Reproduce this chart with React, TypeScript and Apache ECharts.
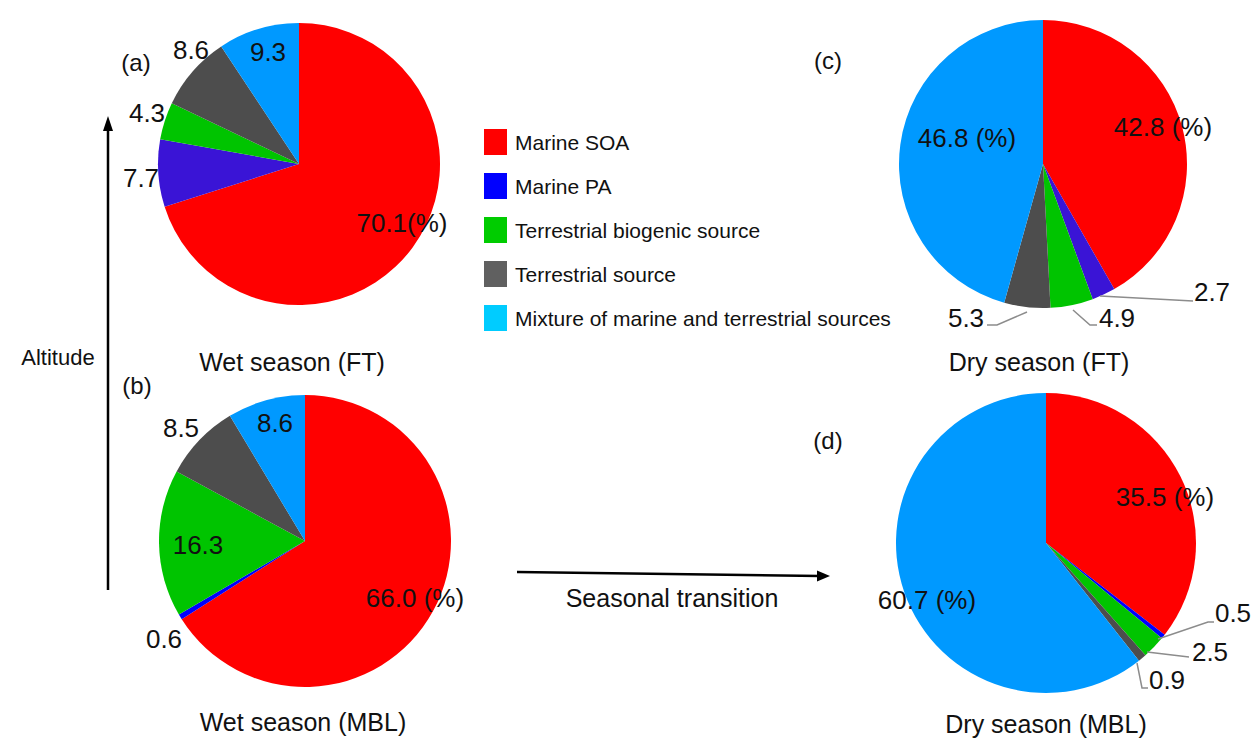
import React, { useEffect, useRef } from "react";
import * as echarts from "echarts";

// ---- data ----
const categories = [
  "Marine SOA",
  "Marine PA",
  "Terrestrial biogenic source",
  "Terrestrial source",
  "Mixture of marine and terrestrial sources",
];
const wetFT = [70.1, 7.7, 4.3, 8.6, 9.3];
const wetMBL = [66.0, 0.6, 16.3, 8.5, 8.6];
const dryFT = [42.8, 2.7, 4.9, 5.3, 46.8];
const dryMBL = [35.5, 0.5, 2.5, 0.9, 60.7];
const panelTitles = ["Wet season (FT)", "Wet season (MBL)", "Dry season (FT)", "Dry season (MBL)"];
const panelTags = ["(a)", "(b)", "(c)", "(d)"];
const axisTexts = ["Altitude", "Seasonal transition"];

// ---- styles / layout ----
const FONT = "Arial, 'Liberation Sans', sans-serif";
const legendColors = ["#FF0000", "#0000FF", "#00CC00", "#606060", "#00CCFF"];
const purpleSlice = ["#FF0000", "#3A14D6", "#00C400", "#4D4D4D", "#0099FF"];
const blueSlice = ["#FF0000", "#0000FF", "#00C400", "#4D4D4D", "#0099FF"];

const panels = [
  {
    values: wetFT, colors: purpleSlice, center: [299, 164], r: 141,
    labelPos: [[402, 223], [141, 178], [147, 113], [191, 50], [268, 52]],
    suffix: ["(%)", "", "", "", ""],
    lines: [null, null, null, null, null],
    title: [292, 362], tag: [136, 62],
  },
  {
    values: wetMBL, colors: blueSlice, center: [305, 541], r: 146,
    labelPos: [[415, 598], [164, 639], [198, 545], [181, 428], [275, 423]],
    suffix: [" (%)", "", "", "", ""],
    lines: [null, null, null, null, null],
    title: [303, 722], tag: [137, 385],
  },
  {
    values: dryFT, colors: purpleSlice, center: [1043, 164], r: 144,
    labelPos: [[1163, 127], [1212, 292], [1117, 318], [966, 318], [967, 138]],
    suffix: [" (%)", "", "", "", " (%)"],
    lines: [
      null,
      [[1100, 296], [1193, 301]],
      [[1073, 310], [1090, 325], [1097, 325]],
      [[987, 325], [997, 325], [1027, 312]],
      null,
    ],
    title: [1039, 362], tag: [828, 60],
  },
  {
    values: dryMBL, colors: blueSlice, center: [1046, 543], r: 150,
    labelPos: [[1165, 497], [1233, 613], [1210, 652], [1167, 680], [927, 600]],
    suffix: [" (%)", "", "", "", " (%)"],
    lines: [
      null,
      [[1158, 639], [1208, 622], [1214, 622]],
      [[1147, 652], [1189, 657]],
      [[1137, 663], [1142, 688], [1148, 688]],
      null,
    ],
    title: [1046, 724], tag: [828, 440],
  },
];

function txt(text: string, x: number, y: number, size: number) {
  return {
    type: "text",
    silent: true,
    z: 100,
    style: {
      text, x, y, align: "center", verticalAlign: "middle",
      fontSize: size, fontFamily: FONT, fill: "#111",
    },
  };
}

export default function App() {
  const ref = useRef<HTMLDivElement>(null);
  useEffect(() => {
    if (!ref.current) return;
    const chart = echarts.init(ref.current, undefined, { renderer: "svg" });

    const series = panels.map((p, k) => ({
      type: "pie",
      name: panelTitles[k],
      center: p.center,
      radius: p.r,
      startAngle: 90,
      clockwise: true,
      silent: true,
      avoidLabelOverlap: false,
      label: { show: false },
      labelLine: { show: false },
      emphasis: { disabled: true },
      itemStyle: { borderWidth: 0 },
      z: 1,
      data: categories.map((name, i) => ({
        name, value: p.values[i], itemStyle: { color: p.colors[i] },
      })),
    }));

    const graphics: any[] = [];
    panels.forEach((p, k) => {
      p.values.forEach((v, i) => {
        const [x, y] = p.labelPos[i];
        graphics.push(txt(v.toFixed(1) + p.suffix[i], x, y, 26));
        const ln = p.lines[i];
        if (ln) {
          graphics.push({
            type: "polyline", silent: true, z: 100,
            shape: { points: ln },
            style: { stroke: "#8C8C8C", lineWidth: 1.5, fill: null },
          });
        }
      });
      graphics.push(txt(panelTitles[k], p.title[0], p.title[1], 25));
      graphics.push(txt(panelTags[k], p.tag[0], p.tag[1], 24));
    });

    // Altitude arrow
    graphics.push({
      type: "line", silent: true, z: 100,
      shape: { x1: 108, y1: 590, x2: 108, y2: 128 },
      style: { stroke: "#000", lineWidth: 2.5 },
    });
    graphics.push({
      type: "polygon", silent: true, z: 100,
      shape: { points: [[108, 116], [103, 131], [113, 131]] },
      style: { fill: "#000" },
    });
    graphics.push(txt(axisTexts[0], 58, 357, 22));
    // Seasonal transition arrow
    graphics.push({
      type: "line", silent: true, z: 100,
      shape: { x1: 517, y1: 572, x2: 820, y2: 576 },
      style: { stroke: "#000", lineWidth: 2.5 },
    });
    graphics.push({
      type: "polygon", silent: true, z: 100,
      shape: { points: [[830, 576], [817, 570.5], [817, 581.5]] },
      style: { fill: "#000" },
    });
    graphics.push(txt(axisTexts[1], 672, 598, 25));

    chart.setOption({
      animation: false,
      backgroundColor: "#fff",
      legend: {
        orient: "vertical",
        left: 479,
        top: 124,
        itemWidth: 23,
        itemHeight: 26,
        itemGap: 18,
        icon: "rect",
        selectedMode: false,
        data: categories.map((name, i) => ({ name, itemStyle: { color: legendColors[i] } })),
        textStyle: { fontSize: 21, fontFamily: FONT, color: "#111", padding: [0, 0, 0, 3] },
      },
      series,
      graphic: graphics,
    });
    return () => chart.dispose();
  }, []);
  return (
    <div
      ref={ref}
      style={{ position: "fixed", left: 0, top: 0, width: 1255, height: 740, background: "#fff" }}
    />
  );
}
